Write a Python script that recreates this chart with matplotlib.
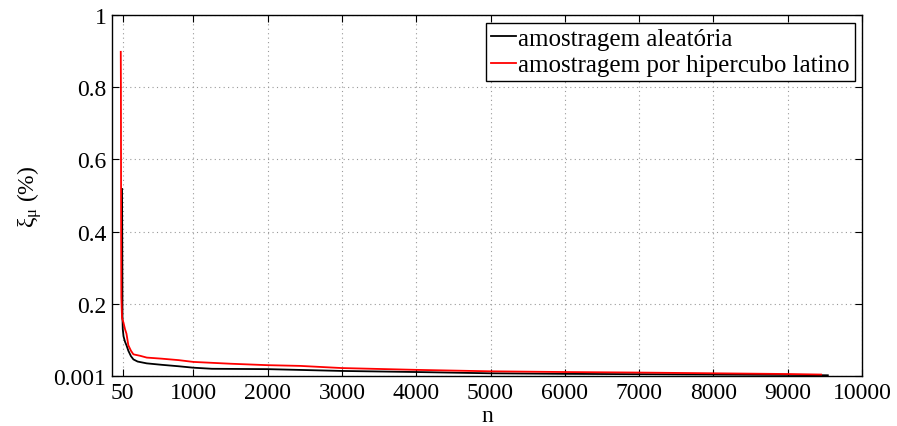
import numpy as np
import matplotlib
matplotlib.use("Agg")
from matplotlib import pyplot as plt

plt.rcParams['font.family'] = ['Liberation Serif', 'DejaVu Serif']
plt.rcParams['mathtext.fontset'] = 'custom'
plt.rcParams['mathtext.rm'] = 'Liberation Serif'
plt.rcParams['mathtext.it'] = 'Liberation Serif:italic'

# values
n_aleat = [40, 42, 44, 46, 50, 60, 80, 100, 125, 160, 193, 250, 373, 574, 800, 1000, 1250,
           2000, 3000, 4000, 5000, 6000, 7000, 8000, 9000, 9540]
xi_aleat = [0.518, 0.42, 0.30, 0.16, 0.13, 0.11, 0.095, 0.085, 0.07, 0.055, 0.046, 0.040,
            0.035, 0.031, 0.027, 0.023, 0.020, 0.019, 0.014, 0.011, 0.0075, 0.006, 0.005,
            0.004, 0.003, 0.002]

n_lhs = [23, 25, 28, 31, 40, 58, 80, 100, 125, 160, 193, 283, 373, 574, 800, 1000, 1500,
         2000, 2436, 3000, 4000, 5000, 6000, 7000, 8000, 9000, 9450]
xi_lhs = [0.898, 0.80, 0.40, 0.218, 0.16, 0.149, 0.13, 0.117, 0.085, 0.07, 0.06, 0.056,
          0.051, 0.048, 0.044, 0.039, 0.034, 0.030, 0.028, 0.022, 0.017, 0.013, 0.011,
          0.0095, 0.0075, 0.0055, 0.004]

xticks = [50, 1000, 2000, 3000, 4000, 5000, 6000, 7000, 8000, 9000, 10000]
yticks = [0.001, 0.2, 0.4, 0.6, 0.8, 1]
ytick_labels = ['0.001', '0.2', '0.4', '0.6', '0.8', '1']

fig = plt.figure(figsize=(8.97, 4.27), dpi=100)
ax = fig.add_axes([112 / 897, 1 - 377 / 427, 750 / 897, 361 / 427])

ax.plot(n_aleat, xi_aleat, color='black', lw=1.3, label='amostragem aleatória')
ax.plot(n_lhs, xi_lhs, color='red', lw=1.3, label='amostragem por hipercubo latino')

ax.set_xlim(-95, 10000)
ax.set_ylim(0, 1)
ax.set_xticks(xticks)
ax.set_xticklabels([str(t) for t in xticks])
ax.set_yticks(yticks)
ax.set_yticklabels(ytick_labels)
ax.tick_params(direction='in', top=True, right=True, labelsize=17, length=5, pad=4)
ax.grid(True, linestyle=(0, (1, 3)), color='#999999', lw=0.8)
for s in ax.spines.values():
    s.set_linewidth(1.0)

ax.set_xlabel('n', fontsize=17, labelpad=2)
ax.set_ylabel('ξ$_{\\mathrm{μ}}$ (%)', fontsize=17, labelpad=7)

leg = ax.legend(loc='upper right', fontsize=18, handlelength=1.0, handletextpad=0.1,
                borderpad=0.2, labelspacing=0.15, fancybox=False, framealpha=1,
                edgecolor='black', borderaxespad=0.3)
leg.get_frame().set_linewidth(1.0)

fig.savefig("out.png", dpi=100)
